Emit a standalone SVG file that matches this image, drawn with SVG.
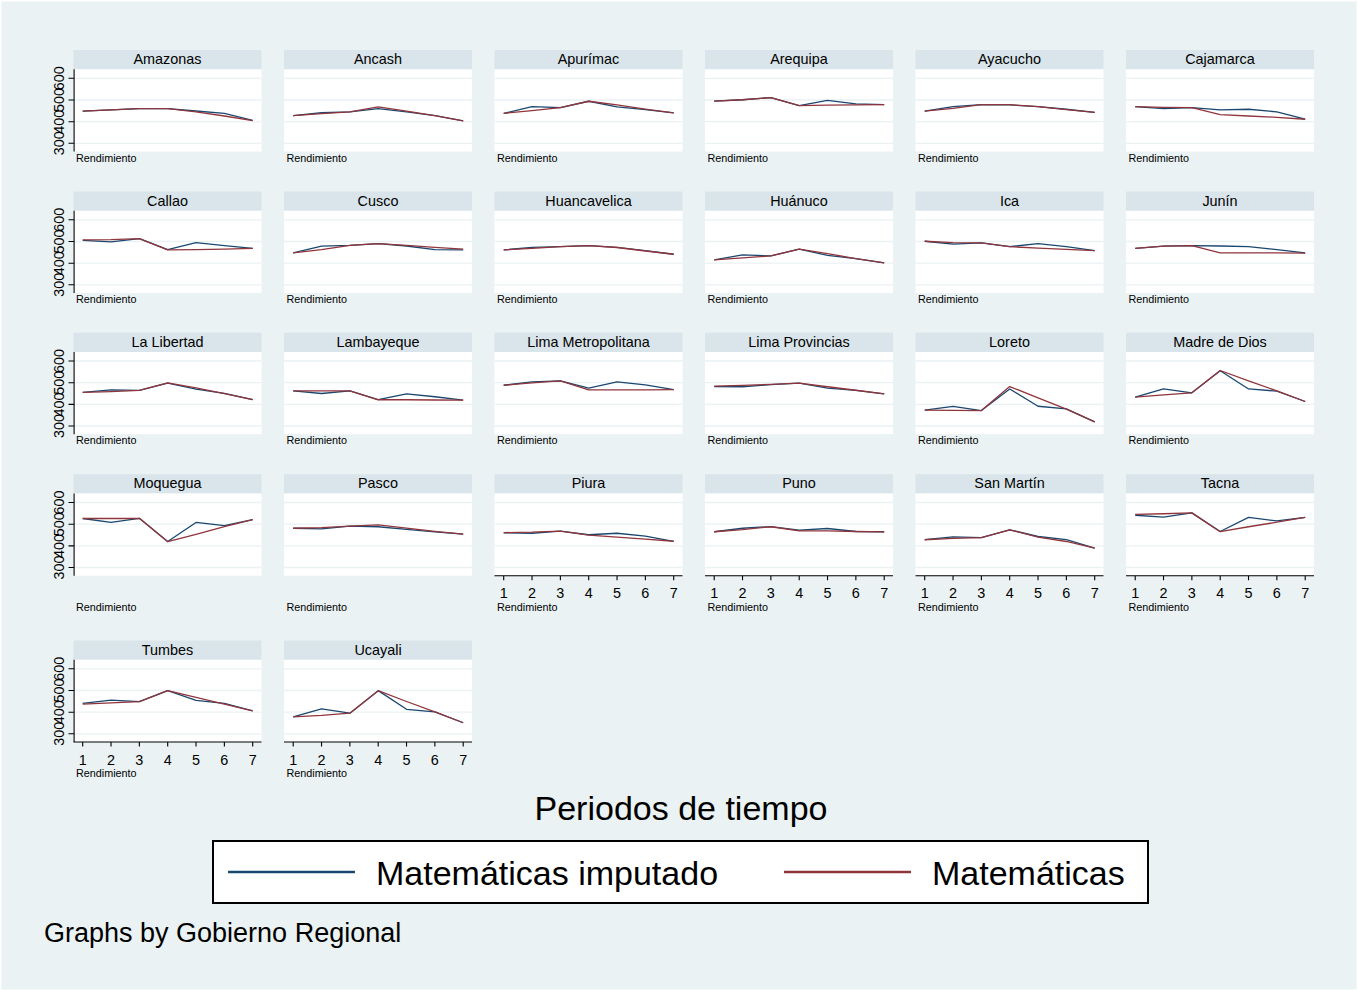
<svg xmlns="http://www.w3.org/2000/svg" xmlns:xlink="http://www.w3.org/1999/xlink" width="1358" height="991" viewBox="0 0 1358 991">
<style>
.bg{fill:#eaf2f3}
.strip{fill:#d9e5ea}
.plot{fill:#fff}
.grid{stroke:#eaf2f3;stroke-width:1.3;fill:none}
.ax{stroke:#000;stroke-width:1.1;fill:none}
text{font-family:"Liberation Sans",Arial,sans-serif;fill:#000}
.hd{font-size:14.4px;text-anchor:middle}
.rd{font-size:10.8px}
.yt{font-size:14.4px;text-anchor:middle}
.xt{font-size:14.4px;text-anchor:middle}
.b,.r{fill:none;stroke-width:1.3;stroke-linejoin:round;vector-effect:non-scaling-stroke}
.b{stroke:#1a476f}
.r{stroke:#90353b}
.big{font-size:34px}
</style>
<defs>
<g id="base">
<rect class="strip" width="188" height="19.3"/>
<rect class="plot" y="19.3" width="188" height="82.2"/>
<path class="grid" d="M0,28.3H188M0,50H188M0,71.7H188M0,93.3H188"/>
</g>
<g id="yax">
<path class="ax" d="M0.6,19.3V101.5M-5,28.3H0.6M-5,50H0.6M-5,71.7H0.6M-5,93.3H0.6"/>
<text class="yt" transform="translate(-10,93.3) rotate(-90)">300</text>
<text class="yt" transform="translate(-10,71.7) rotate(-90)">400</text>
<text class="yt" transform="translate(-10,50) rotate(-90)">500</text>
<text class="yt" transform="translate(-10,28.3) rotate(-90)">600</text>
</g>
<g id="xax">
<path class="ax" d="M0,101.5H188M9.2,101.5V106M37.53,101.5V106M65.87,101.5V106M94.2,101.5V106M122.53,101.5V106M150.87,101.5V106M179.2,101.5V106"/>
<text class="xt" x="9.2" y="124">1</text>
<text class="xt" x="37.53" y="124">2</text>
<text class="xt" x="65.87" y="124">3</text>
<text class="xt" x="94.2" y="124">4</text>
<text class="xt" x="122.53" y="124">5</text>
<text class="xt" x="150.87" y="124">6</text>
<text class="xt" x="179.2" y="124">7</text>
</g>
</defs>
<rect width="1358" height="991" fill="#fff"/>
<rect class="bg" x="1.5" y="1.5" width="1355" height="988"/>

<!-- Row 1 -->
<g id="p-amazonas" transform="translate(73.5,50)"><use xlink:href="#base"/><use xlink:href="#yax"/><text class="hd" x="94" y="14">Amazonas</text><text class="rd" x="2.5" y="111.7">Rendimiento</text>
<g transform="translate(9.2,158.3) scale(28.333,-0.2167)"><polyline class="b" points="0,448 1,454 2,460 3,460 4,449 5,438 6,406"/><polyline class="r" points="0,448 1,454 2,460 3,460 4,445 5,426 6,405"/></g></g>
<g id="p-ancash" transform="translate(284,50)"><use xlink:href="#base"/><text class="hd" x="94" y="14">Ancash</text><text class="rd" x="2.5" y="111.7">Rendimiento</text>
<g transform="translate(9.2,158.3) scale(28.333,-0.2167)"><polyline class="b" points="0,428 1,441 2,445 3,460 4,445 5,428 6,403"/><polyline class="r" points="0,428 1,437 2,445 3,468 4,448 5,428 6,403"/></g></g>
<g id="p-apurimac" transform="translate(494.5,50)"><use xlink:href="#base"/><text class="hd" x="94" y="14">Apurímac</text><text class="rd" x="2.5" y="111.7">Rendimiento</text>
<g transform="translate(9.2,158.3) scale(28.333,-0.2167)"><polyline class="b" points="0,438 1,469 2,465 3,494 4,468 5,455 6,440"/><polyline class="r" points="0,438 1,451 2,465 3,494 4,477 5,458 6,440"/></g></g>
<g id="p-arequipa" transform="translate(705,50)"><use xlink:href="#base"/><text class="hd" x="94" y="14">Arequipa</text><text class="rd" x="2.5" y="111.7">Rendimiento</text>
<g transform="translate(9.2,158.3) scale(28.333,-0.2167)"><polyline class="b" points="0,495 1,501 2,511 3,474 4,498 5,482 6,478"/><polyline class="r" points="0,495 1,501 2,511 3,474 4,476 5,477 6,478"/></g></g>
<g id="p-ayacucho" transform="translate(915.5,50)"><use xlink:href="#base"/><text class="hd" x="94" y="14">Ayacucho</text><text class="rd" x="2.5" y="111.7">Rendimiento</text>
<g transform="translate(9.2,158.3) scale(28.333,-0.2167)"><polyline class="b" points="0,448 1,469 2,478 3,477 4,469 5,457 6,443"/><polyline class="r" points="0,448 1,461 2,478 3,478 4,469 5,455 6,443"/></g></g>
<g id="p-cajamarca" transform="translate(1126,50)"><use xlink:href="#base"/><text class="hd" x="94" y="14">Cajamarca</text><text class="rd" x="2.5" y="111.7">Rendimiento</text>
<g transform="translate(9.2,158.3) scale(28.333,-0.2167)"><polyline class="b" points="0,469 1,460 2,465 3,454 4,457 5,445 6,412"/><polyline class="r" points="0,469 1,466 2,465 3,432 4,426 5,420 6,411"/></g></g>

<!-- Row 2 -->
<g id="p-callao" transform="translate(73.5,191.5)"><use xlink:href="#base"/><use xlink:href="#yax"/><text class="hd" x="94" y="14">Callao</text><text class="rd" x="2.5" y="111.7">Rendimiento</text>
<g transform="translate(9.2,158.3) scale(28.333,-0.2167)"><polyline class="b" points="0,505 1,498 2,513 3,462 4,495 5,481 6,468"/><polyline class="r" points="0,507 1,508 2,513 3,461 4,462 5,465 6,468"/></g></g>
<g id="p-cusco" transform="translate(284,191.5)"><use xlink:href="#base"/><text class="hd" x="94" y="14">Cusco</text><text class="rd" x="2.5" y="111.7">Rendimiento</text>
<g transform="translate(9.2,158.3) scale(28.333,-0.2167)"><polyline class="b" points="0,447 1,478 2,482 3,490 4,479 5,462 6,461"/><polyline class="r" points="0,447 1,462 2,482 3,490 4,482 5,473 6,465"/></g></g>
<g id="p-huancavelica" transform="translate(494.5,191.5)"><use xlink:href="#base"/><text class="hd" x="94" y="14">Huancavelica</text><text class="rd" x="2.5" y="111.7">Rendimiento</text>
<g transform="translate(9.2,158.3) scale(28.333,-0.2167)"><polyline class="b" points="0,461 1,473 2,476 3,481 4,473 5,458 6,441"/><polyline class="r" points="0,461 1,468 2,476 3,481 4,472 5,456 6,441"/></g></g>
<g id="p-huanuco" transform="translate(705,191.5)"><use xlink:href="#base"/><text class="hd" x="94" y="14">Huánuco</text><text class="rd" x="2.5" y="111.7">Rendimiento</text>
<g transform="translate(9.2,158.3) scale(28.333,-0.2167)"><polyline class="b" points="0,415 1,438 2,433 3,465 4,436 5,421 6,401"/><polyline class="r" points="0,415 1,424 2,433 3,465 4,444 5,421 6,401"/></g></g>
<g id="p-ica" transform="translate(915.5,191.5)"><use xlink:href="#base"/><text class="hd" x="94" y="14">Ica</text><text class="rd" x="2.5" y="111.7">Rendimiento</text>
<g transform="translate(9.2,158.3) scale(28.333,-0.2167)"><polyline class="b" points="0,501 1,488 2,493 3,476 4,490 5,476 6,458"/><polyline class="r" points="0,501 1,495 2,493 3,476 4,469 5,463 6,458"/></g></g>
<g id="p-junin" transform="translate(1126,191.5)"><use xlink:href="#base"/><text class="hd" x="94" y="14">Junín</text><text class="rd" x="2.5" y="111.7">Rendimiento</text>
<g transform="translate(9.2,158.3) scale(28.333,-0.2167)"><polyline class="b" points="0,468 1,478 2,481 3,479 4,476 5,462 6,447"/><polyline class="r" points="0,468 1,478 2,481 3,447 4,447 5,447 6,446"/></g></g>

<!-- Row 3 -->
<g id="p-lalibertad" transform="translate(73.5,332.7)"><use xlink:href="#base"/><use xlink:href="#yax"/><text class="hd" x="94" y="14">La Libertad</text><text class="rd" x="2.5" y="111.7">Rendimiento</text>
<g transform="translate(9.2,158.3) scale(28.333,-0.2167)"><polyline class="b" points="0,455 1,467 2,464 3,498 4,470 5,451 6,422"/><polyline class="r" points="0,455 1,459 2,464 3,499 4,476 5,449 6,422"/></g></g>
<g id="p-lambayeque" transform="translate(284,332.7)"><use xlink:href="#base"/><text class="hd" x="94" y="14">Lambayeque</text><text class="rd" x="2.5" y="111.7">Rendimiento</text>
<g transform="translate(9.2,158.3) scale(28.333,-0.2167)"><polyline class="b" points="0,462 1,450 2,462 3,422 4,448 5,435 6,419"/><polyline class="r" points="0,462 1,462 2,462 3,421 4,421 5,420 6,419"/></g></g>
<g id="p-limametropolitana" transform="translate(494.5,332.7)"><use xlink:href="#base"/><text class="hd" x="94" y="14">Lima Metropolitana</text><text class="rd" x="2.5" y="111.7">Rendimiento</text>
<g transform="translate(9.2,158.3) scale(28.333,-0.2167)"><polyline class="b" points="0,488 1,504 2,508 3,475 4,504 5,490 6,468"/><polyline class="r" points="0,488 1,499 2,508 3,467 4,467 5,467 6,468"/></g></g>
<g id="p-limaprovincias" transform="translate(705,332.7)"><use xlink:href="#base"/><text class="hd" x="94" y="14">Lima Provincias</text><text class="rd" x="2.5" y="111.7">Rendimiento</text>
<g transform="translate(9.2,158.3) scale(28.333,-0.2167)"><polyline class="b" points="0,482 1,481 2,491 3,498 4,475 5,464 6,448"/><polyline class="r" points="0,484 1,487 2,492 3,498 4,481 5,465 6,448"/></g></g>
<g id="p-loreto" transform="translate(915.5,332.7)"><use xlink:href="#base"/><text class="hd" x="94" y="14">Loreto</text><text class="rd" x="2.5" y="111.7">Rendimiento</text>
<g transform="translate(9.2,158.3) scale(28.333,-0.2167)"><polyline class="b" points="0,373 1,391 2,371 3,471 4,391 5,379 6,319"/><polyline class="r" points="0,373 1,372 2,371 3,482 4,430 5,378 6,319"/></g></g>
<g id="p-madrededios" transform="translate(1126,332.7)"><use xlink:href="#base"/><text class="hd" x="94" y="14">Madre de Dios</text><text class="rd" x="2.5" y="111.7">Rendimiento</text>
<g transform="translate(9.2,158.3) scale(28.333,-0.2167)"><polyline class="b" points="0,433 1,471 2,453 3,555 4,471 5,461 6,413"/><polyline class="r" points="0,433 1,444 2,453 3,556 4,508 5,462 6,413"/></g></g>

<!-- Row 4 -->
<g id="p-moquegua" transform="translate(73.5,474.2)"><use xlink:href="#base"/><use xlink:href="#yax"/><text class="hd" x="94" y="14">Moquegua</text><text class="rd" x="2.5" y="136.8">Rendimiento</text>
<g transform="translate(9.2,158.3) scale(28.333,-0.2167)"><polyline class="b" points="0,526 1,508 2,527 3,420 4,508 5,493 6,521"/><polyline class="r" points="0,526 1,526 2,527 3,419 4,453 5,489 6,521"/></g></g>
<g id="p-pasco" transform="translate(284,474.2)"><use xlink:href="#base"/><text class="hd" x="94" y="14">Pasco</text><text class="rd" x="2.5" y="136.8">Rendimiento</text>
<g transform="translate(9.2,158.3) scale(28.333,-0.2167)"><polyline class="b" points="0,481 1,478 2,491 3,488 4,476 5,464 6,454"/><polyline class="r" points="0,481 1,484 2,491 3,497 4,482 5,467 6,454"/></g></g>
<g id="p-piura" transform="translate(494.5,474.2)"><use xlink:href="#base"/><use xlink:href="#xax"/><text class="hd" x="94" y="14">Piura</text><text class="rd" x="2.5" y="136.8">Rendimiento</text>
<g transform="translate(9.2,158.3) scale(28.333,-0.2167)"><polyline class="b" points="0,460 1,458 2,468 3,451 4,458 5,445 6,421"/><polyline class="r" points="0,461 1,463 2,468 3,449 4,440 5,431 6,421"/></g></g>
<g id="p-puno" transform="translate(705,474.2)"><use xlink:href="#base"/><use xlink:href="#xax"/><text class="hd" x="94" y="14">Puno</text><text class="rd" x="2.5" y="136.8">Rendimiento</text>
<g transform="translate(9.2,158.3) scale(28.333,-0.2167)"><polyline class="b" points="0,465 1,481 2,489 3,472 4,480 5,466 6,465"/><polyline class="r" points="0,465 1,475 2,488 3,469 4,469 5,466 6,464"/></g></g>
<g id="p-sanmartin" transform="translate(915.5,474.2)"><use xlink:href="#base"/><use xlink:href="#xax"/><text class="hd" x="94" y="14">San Martín</text><text class="rd" x="2.5" y="136.8">Rendimiento</text>
<g transform="translate(9.2,158.3) scale(28.333,-0.2167)"><polyline class="b" points="0,429 1,441 2,438 3,474 4,443 5,429 6,389"/><polyline class="r" points="0,428 1,434 2,438 3,474 4,440 5,420 6,389"/></g></g>
<g id="p-tacna" transform="translate(1126,474.2)"><use xlink:href="#base"/><use xlink:href="#xax"/><text class="hd" x="94" y="14">Tacna</text><text class="rd" x="2.5" y="136.8">Rendimiento</text>
<g transform="translate(9.2,158.3) scale(28.333,-0.2167)"><polyline class="b" points="0,541 1,532 2,552 3,466 4,531 5,515 6,531"/><polyline class="r" points="0,545 1,548 2,552 3,465 4,488 5,509 6,531"/></g></g>

<!-- Row 5 -->
<g id="p-tumbes" transform="translate(73.5,640.5)"><use xlink:href="#base"/><use xlink:href="#yax"/><use xlink:href="#xax"/><text class="hd" x="94" y="14">Tumbes</text><text class="rd" x="2.5" y="136.2">Rendimiento</text>
<g transform="translate(9.2,158.3) scale(28.333,-0.2167)"><polyline class="b" points="0,440 1,455 2,448 3,499 4,454 5,440 6,406"/><polyline class="r" points="0,437 1,443 2,448 3,499 4,468 5,437 6,406"/></g></g>
<g id="p-ucayali" transform="translate(284,640.5)"><use xlink:href="#base"/><use xlink:href="#xax"/><text class="hd" x="94" y="14">Ucayali</text><text class="rd" x="2.5" y="136.2">Rendimiento</text>
<g transform="translate(9.2,158.3) scale(28.333,-0.2167)"><polyline class="b" points="0,378 1,415 2,395 3,499 4,413 5,401 6,351"/><polyline class="r" points="0,378 1,385 2,395 3,499 4,449 5,401 6,351"/></g></g>

<g id="connectors"></g>

<g id="title"><text class="big" x="681" y="820" text-anchor="middle">Periodos de tiempo</text></g>

<g id="legend">
<rect x="213" y="841" width="935" height="62" fill="#fff" stroke="#000" stroke-width="2"/>
<line x1="228" y1="872" x2="355" y2="872" stroke="#1a476f" stroke-width="2.6"/>
<text class="big" x="376" y="885">Matemáticas imputado</text>
<line x1="784" y1="872" x2="911" y2="872" stroke="#90353b" stroke-width="2.6"/>
<text class="big" x="932" y="885">Matemáticas</text>
</g>

<g id="note"><text x="44" y="942" font-size="27px">Graphs by Gobierno Regional</text></g>
</svg>
